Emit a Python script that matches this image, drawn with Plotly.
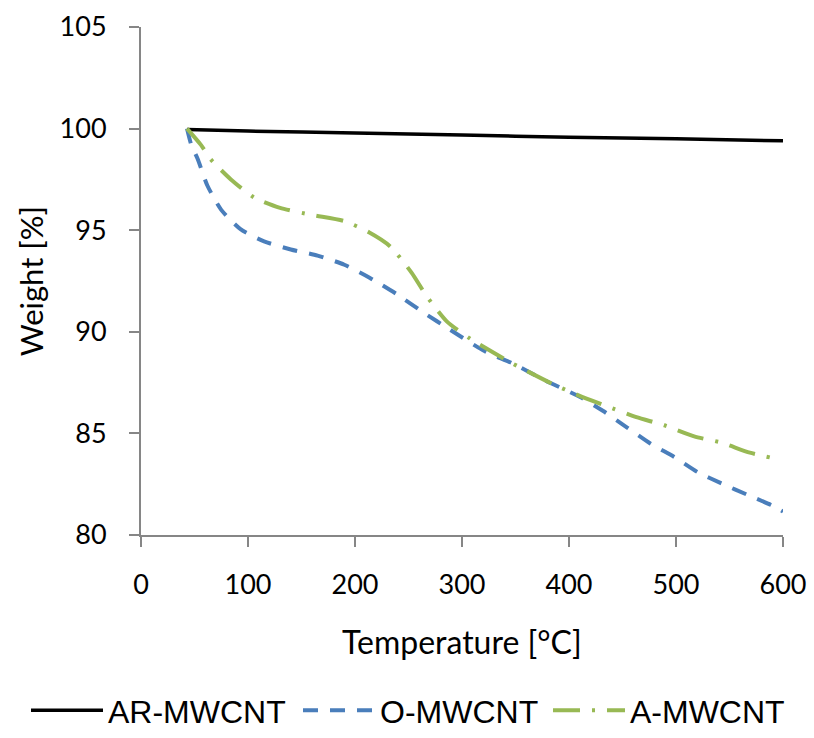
import plotly.graph_objects as go

# Data
temp_ar = [43, 100, 200, 300, 400, 500, 600]
weight_ar = [99.95, 99.88, 99.78, 99.68, 99.58, 99.5, 99.4]

temp_o = [43, 47, 53, 62, 75, 93, 115, 140, 165, 190, 214, 239, 264, 289, 321,
          347, 378, 410, 432, 454, 476, 498, 520, 542, 568, 590, 600]
weight_o = [100, 99.2, 98.5, 97.2, 96.0, 95.05, 94.45, 94.05, 93.75, 93.3, 92.65,
            91.85, 90.95, 90.1, 89.05, 88.45, 87.6, 86.8, 86.1, 85.3, 84.5, 83.85,
            83.1, 82.55, 81.95, 81.45, 81.15]

temp_a = [43, 56, 65, 84, 106, 130, 160, 190, 213, 233, 253, 267, 286, 308, 347,
          384, 410, 435, 463, 489, 517, 542, 569, 598]
weight_a = [100, 99.2, 98.5, 97.5, 96.6, 96.1, 95.75, 95.45, 94.9, 94.2, 92.9,
            91.75, 90.5, 89.65, 88.45, 87.45, 86.85, 86.35, 85.8, 85.4, 84.85,
            84.55, 84.05, 83.7]

x_ticks = [0, 100, 200, 300, 400, 500, 600]
y_ticks = [80, 85, 90, 95, 100, 105]

fig = go.Figure()
fig.add_trace(go.Scatter(x=temp_ar, y=weight_ar, mode="lines", name="AR-MWCNT",
                         legend="legend",
                         line=dict(color="#000000", width=3.5, shape="spline", smoothing=0.6)))
fig.add_trace(go.Scatter(x=temp_o, y=weight_o, mode="lines", name="O-MWCNT",
                         legend="legend2",
                         line=dict(color="#4a7ebb", width=4, dash="15px,12px",
                                   shape="spline", smoothing=0.6)))
fig.add_trace(go.Scatter(x=temp_a, y=weight_a, mode="lines", name="A-MWCNT",
                         legend="legend3",
                         line=dict(color="#98b954", width=4, dash="27px,12px,3px,12px",
                                   shape="spline", smoothing=0.6)))

axis_common = dict(showgrid=False, zeroline=False, showline=True, linecolor="#868686",
                   linewidth=2, ticks="outside", tickcolor="#868686", tickwidth=2,
                   ticklen=10, automargin=False,
                   tickfont=dict(family="Lato", size=27, color="#000000"))

legend_common = dict(orientation="h", xanchor="left", xref="container",
                     y=0.0, yanchor="bottom", yref="container",
                     font=dict(family="Liberation Sans, Arial", size=32, color="#000000"),
                     itemwidth=72, bgcolor="rgba(0,0,0,0)")

fig.update_layout(
    width=814, height=738,
    margin=dict(l=141, r=31, t=27, b=203),
    paper_bgcolor="white", plot_bgcolor="white",
    xaxis=dict(range=[0, 600], tickvals=x_ticks, ticklabelstandoff=15, **axis_common),
    yaxis=dict(range=[80, 105], tickvals=y_ticks, ticklabelstandoff=17, **axis_common),
    legend=dict(x=(33 - 7) / 814, **legend_common),
    legend2=dict(x=(305 - 7) / 814, **legend_common),
    legend3=dict(x=(555 - 7) / 814, **legend_common),
    showlegend=True,
    annotations=[
        dict(text="Temperature [°C]", xref="paper", yref="paper", x=0.5, y=-0.2105,
             xanchor="center", yanchor="middle", showarrow=False,
             font=dict(family="Lato", size=32, color="#000000")),
        dict(text="Weight [%]", xref="paper", yref="paper", x=-0.171, y=0.5,
             xanchor="center", yanchor="middle", showarrow=False, textangle=-90,
             font=dict(family="Lato", size=31, color="#000000")),
    ],
)

fig.write_html("out.html")
